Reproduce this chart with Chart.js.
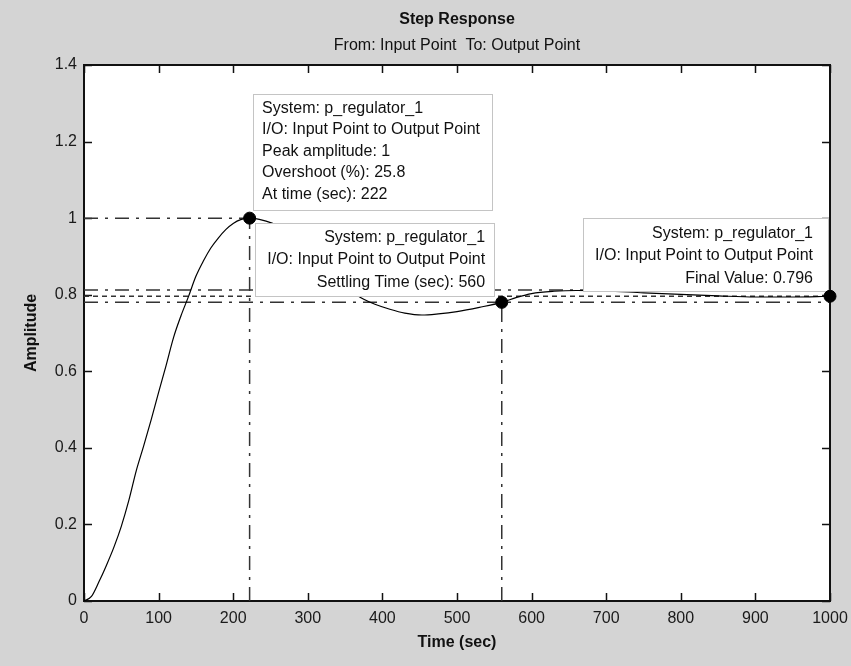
<!DOCTYPE html>
<html><head><meta charset="utf-8">
<script src="https://cdn.jsdelivr.net/npm/chart.js@4.4.1/dist/chart.umd.min.js"></script>
<style>html,body{margin:0;padding:0;background:#d4d4d4;overflow:hidden}canvas{display:block}</style>
</head><body>
<canvas id="c" width="851" height="666"></canvas>
<script>
// ---- data ----
const time = [0,10,20,30,40,50,60,70,80,90,100,110,120,130,140,150,160,170,180,190,200,210,222,235,252,270,290,310,330,350,365,375,390,410,430,453,475,500,530,560,580,600,630,660,700,750,800,850,900,950,1000];
const amplitude = [0,0.012,0.05,0.093,0.14,0.195,0.262,0.34,0.405,0.473,0.545,0.615,0.688,0.745,0.795,0.848,0.888,0.922,0.948,0.970,0.986,0.996,1.0,0.997,0.987,0.968,0.938,0.898,0.858,0.822,0.8,0.788,0.775,0.762,0.752,0.747,0.75,0.756,0.767,0.78,0.793,0.803,0.809,0.811,0.81,0.805,0.801,0.797,0.794,0.794,0.796];
const xTickValues = [0,100,200,300,400,500,600,700,800,900,1000];
const xTickLabels = ['0','100','200','300','400','500','600','700','800','900','1000'];
const yTickValues = [0,0.2,0.4,0.6,0.8,1,1.2,1.4];
const yTickLabels = ['0','0.2','0.4','0.6','0.8','1','1.2','1.4'];
const peakTime = 222, peakAmplitude = 1;
const settleTime = 560, settleAmplitude = 0.78;
const finalTime = 1000, finalValue = 0.796;
const bandUpper = 0.812, bandLower = 0.78;
const titleText = 'Step Response';
const subtitleText = 'From: Input Point  To: Output Point';
const xTitle = 'Time (sec)';
const yTitle = 'Amplitude';
const peakBox = ['System: p_regulator_1','I/O: Input Point to Output Point','Peak amplitude: 1','Overshoot (%): 25.8','At time (sec): 222'];
const settleBox = ['System: p_regulator_1','I/O: Input Point to Output Point','Settling Time (sec): 560'];
const finalBox = ['System: p_regulator_1','I/O: Input Point to Output Point','Final Value: 0.796'];

// ---- drawing ----
const FONT = '"Liberation Sans", Arial, Helvetica, sans-serif';
Chart.defaults.font.family = FONT;
Chart.defaults.font.size = 16;
Chart.defaults.color = '#1a1a1a';

const curve = time.map((t,i)=>({x:t,y:amplitude[i]}));
const DASHDOT = [14,7,3,7];
const refColor = '#333';

function drawBox(ctx, l, t, r, b, lines, align, tx, y0, step){
  ctx.save();
  ctx.fillStyle = '#fff';
  ctx.fillRect(l, t, r-l, b-t);
  ctx.strokeStyle = '#c4c4c4';
  ctx.lineWidth = 1;
  ctx.strokeRect(Math.round(l)+0.5, Math.round(t)+0.5, Math.round(r-l), Math.round(b-t));
  ctx.fillStyle = '#111';
  ctx.font = '16px ' + FONT;
  ctx.textAlign = align;
  ctx.textBaseline = 'middle';
  lines.forEach((s,i)=>ctx.fillText(s, tx, y0 + i*step));
  ctx.restore();
}

const decor = {
  id: 'decor',
  beforeDraw(chart){
    const {ctx, chartArea:a} = chart;
    ctx.save();
    ctx.fillStyle = '#d4d4d4';
    ctx.fillRect(0,0,chart.width,chart.height);
    ctx.fillStyle = '#fff';
    ctx.fillRect(a.left,a.top,a.right-a.left,a.bottom-a.top);
    ctx.restore();
  },
  beforeDatasetsDraw(chart){
    const {ctx, chartArea:a, scales:{x,y}} = chart;
    ctx.save();
    ctx.strokeStyle = '#111';
    ctx.lineWidth = 1.5;
    ctx.beginPath();
    xTickValues.forEach(v=>{const p=Math.round(x.getPixelForValue(v))+0.5; ctx.moveTo(p,a.bottom); ctx.lineTo(p,a.bottom-8); ctx.moveTo(p,a.top); ctx.lineTo(p,a.top+8);});
    yTickValues.forEach(v=>{const p=Math.round(y.getPixelForValue(v))+0.5; ctx.moveTo(a.left,p); ctx.lineTo(a.left+8,p); ctx.moveTo(a.right,p); ctx.lineTo(a.right-8,p);});
    ctx.stroke();
    ctx.lineWidth = 2;
    ctx.strokeRect(a.left, a.top, a.right-a.left, a.bottom-a.top);
    // titles
    ctx.fillStyle = '#111';
    ctx.textAlign = 'center';
    ctx.textBaseline = 'middle';
    const cx = (a.left+a.right)/2;
    ctx.font = 'bold 16px ' + FONT;
    ctx.fillText(titleText, cx, 20);
    ctx.font = '16px ' + FONT;
    ctx.fillText(subtitleText, cx, 46);
    ctx.font = 'bold 16px ' + FONT;
    ctx.fillText(xTitle, cx, 643);
    ctx.save();
    ctx.translate(32, (a.top+a.bottom)/2);
    ctx.rotate(-Math.PI/2);
    ctx.fillText(yTitle, 0, 0);
    ctx.restore();
    ctx.restore();
  },
  beforeDatasetDraw(chart, args){
    if(args.index !== 0) return;
    const {ctx, scales:{x,y}} = chart;
    const px = x.getPixelForValue(peakTime), py = y.getPixelForValue(peakAmplitude);
    drawBox(ctx, px+3.5, py-124, px+243, py-8, peakBox, 'left', px+12.5, py-110, 21.5);
    drawBox(ctx, px+5.5, py+5, px+244.5, py+78, settleBox, 'right', px+235.5, py+19, 22.5);
    const fx = x.getPixelForValue(finalTime), fy = y.getPixelForValue(finalValue);
    drawBox(ctx, fx-247, fy-78, fx-2, fy-5, finalBox, 'right', fx-17, fy-63, 22.5);
  }
};

const refLine = (pts, dash) => ({data:pts, showLine:true, borderColor:refColor, borderWidth:1.5, borderDash:dash, pointRadius:0, fill:false});

new Chart(document.getElementById('c'), {
  type: 'scatter',
  data: {
    datasets: [
      {data:[{x:peakTime,y:peakAmplitude},{x:settleTime,y:settleAmplitude},{x:finalTime,y:finalValue}], pointRadius:6, pointBackgroundColor:'#000', pointBorderColor:'#000', showLine:false, clip:false},
      {data:curve, showLine:true, borderColor:'#000', borderWidth:1.2, pointRadius:0, cubicInterpolationMode:'monotone', fill:false},
      refLine([{x:0,y:peakAmplitude},{x:peakTime,y:peakAmplitude}], DASHDOT),
      refLine([{x:peakTime,y:0},{x:peakTime,y:peakAmplitude}], DASHDOT),
      refLine([{x:settleTime,y:0},{x:settleTime,y:settleAmplitude}], DASHDOT),
      refLine([{x:0,y:bandUpper},{x:finalTime,y:bandUpper}], DASHDOT),
      refLine([{x:0,y:bandLower},{x:finalTime,y:bandLower}], DASHDOT),
      refLine([{x:0,y:finalValue},{x:finalTime,y:finalValue}], [5,4])
    ]
  },
  options: {
    responsive:false, animation:false,
    layout:{padding:{left:0,right:21,top:65,bottom:0}},
    plugins:{legend:{display:false}, tooltip:{enabled:false}},
    scales:{
      x:{type:'linear', min:0, max:1000,
        afterBuildTicks: s => { s.ticks = xTickValues.map(v=>({value:v})); },
        afterFit: s => { s.height = 65; s.paddingLeft = 0; s.paddingRight = 0; },
        grid:{display:false, drawTicks:false}, border:{display:false},
        ticks:{padding:8, maxRotation:0, autoSkip:false, callback:(v,i)=>xTickLabels[i]}},
      y:{type:'linear', min:0, max:1.4,
        afterBuildTicks: s => { s.ticks = yTickValues.map(v=>({value:v})); },
        afterFit: s => { s.width = 84; s.paddingTop = 0; s.paddingBottom = 0; },
        grid:{display:false, drawTicks:false}, border:{display:false},
        ticks:{padding:7, autoSkip:false, callback:(v,i)=>yTickLabels[i]}}
    }
  },
  plugins:[decor]
});
</script>
</body></html>
